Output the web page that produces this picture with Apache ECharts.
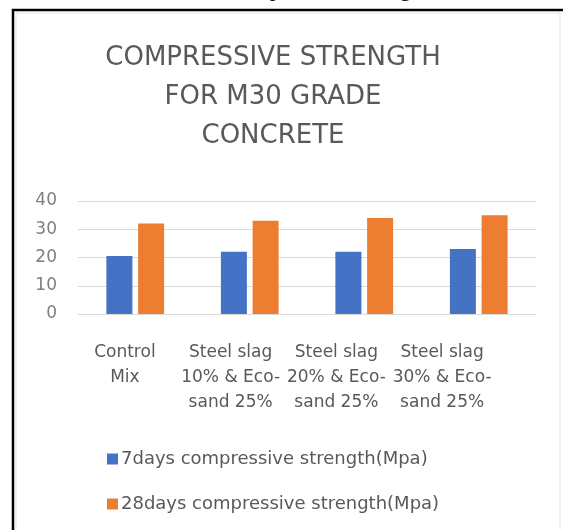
<!DOCTYPE html>
<html>
<head>
<meta charset="utf-8">
<style>
  html, body { margin: 0; padding: 0; background: #fff; }
  #chart { width: 563px; height: 530px; }
</style>
<script src="https://cdn.jsdelivr.net/npm/echarts@6/dist/echarts.min.js"></script>
</head>
<body>
<div id="chart"></div>
<script>
// data
const categories = [
  'Control\nMix',
  'Steel slag\n10% & Eco-\nsand 25%',
  'Steel slag\n20% & Eco-\nsand 25%',
  'Steel slag\n30% & Eco-\nsand 25%'
];
const days7 = [20.5, 22, 22, 23];
const days28 = [32, 33, 34, 35];
const yTicks = [0, 10, 20, 30, 40];

const chart = echarts.init(document.getElementById('chart'));
const font = '"DejaVu Sans", sans-serif';

chart.setOption({
  animation: false,
  title: {
    text: 'COMPRESSIVE STRENGTH\nFOR M30 GRADE\nCONCRETE',
    left: 268,
    textAlign: 'center',
    top: 34,
    textStyle: {
      fontFamily: font,
      fontWeight: 'normal',
      fontSize: 26,
      lineHeight: 39,
      color: '#595959'
    }
  },
  graphic: [
    { // caption cut off at the top of the page
      type: 'text',
      left: 'center',
      top: -22,
      style: { text: 'Table 4.4 Compressive Strength', font: '23px "Liberation Serif", serif', fill: '#000' }
    },
    { // outer frame
      type: 'rect',
      shape: { x: 13, y: 10, width: 570, height: 540 },
      style: { fill: 'none', stroke: '#000', lineWidth: 2.5 }
    },
    {
      type: 'rect',
      shape: { x: 16, y: 13, width: 544, height: 540 },
      style: { fill: 'none', stroke: '#e6e6e6', lineWidth: 1 }
    }
  ],
  legend: {
    orient: 'vertical',
    left: 102,
    top: 445,
    itemWidth: 11,
    itemHeight: 11,
    itemGap: 27,
    icon: 'rect',
    textStyle: { fontFamily: font, fontSize: 18, color: '#595959', padding: [0, 0, 0, -2] },
    data: ['7days compressive strength(Mpa)', '28days compressive strength(Mpa)']
  },
  grid: [
    { left: 78, right: 27, top: 201, bottom: 216, containLabel: false },
    // labels in the picture sit a little left of their bars
    { left: 72, right: 68, top: 201, bottom: 216, containLabel: false }
  ],
  xAxis: [
    {
      type: 'category',
      gridIndex: 0,
      data: categories,
      axisLine: { lineStyle: { color: '#d9d9d9' } },
      axisTick: { show: false },
      axisLabel: { show: false }
    },
    {
      type: 'category',
      gridIndex: 1,
      data: categories,
      axisLine: { show: false },
      axisTick: { show: false },
      axisLabel: {
        fontFamily: font,
        fontSize: 17,
        lineHeight: 25,
        color: '#595959',
        margin: 26,
        interval: 0
      }
    }
  ],
  yAxis: [
    {
      type: 'value',
      gridIndex: 0,
      min: yTicks[0],
      max: yTicks[yTicks.length - 1],
      interval: 10,
      axisLine: { show: false },
      axisTick: { show: false },
      splitLine: { lineStyle: { color: '#d9d9d9' } },
      axisLabel: { fontFamily: font, fontSize: 17, color: '#7f7f7f', margin: 21 }
    },
    {
      type: 'value',
      gridIndex: 1,
      min: 0,
      max: 40,
      show: false,
      splitLine: { show: false }
    }
  ],
  series: [
    {
      name: '7days compressive strength(Mpa)',
      type: 'bar',
      data: days7,
      barWidth: 26,
      barGap: '22%',
      itemStyle: { color: '#4472c4' }
    },
    {
      name: '28days compressive strength(Mpa)',
      type: 'bar',
      data: days28,
      barWidth: 26,
      itemStyle: { color: '#ed7d31' }
    }
  ]
});
</script>
</body>
</html>
